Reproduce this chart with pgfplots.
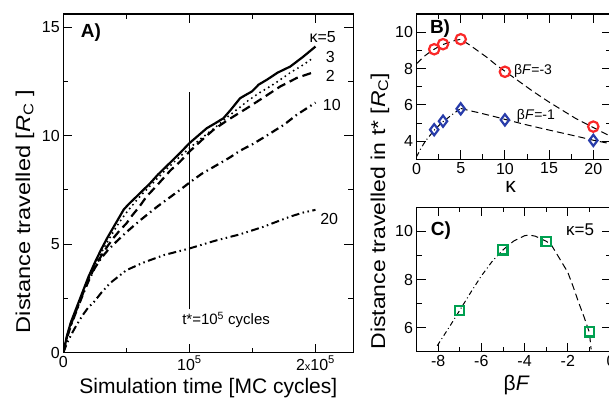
\documentclass[border=0pt]{standalone}
\usepackage{pgfplots}
\pgfplotsset{compat=1.18}
\usepackage{fontspec}
\setmainfont{Liberation Sans}
\definecolor{cred}{RGB}{250,40,40}
\definecolor{cblue}{RGB}{40,60,170}
\definecolor{cgreen}{RGB}{0,160,80}
\pgfplotsset{
 myaxis/.style={
  scale only axis, anchor=south west,
  axis line style={line width=1.2pt},
  every tick/.style={line width=0.9pt, black},
  tick align=inside, major tick length=9pt, minor tick length=5pt,
  xtick pos=both, ytick pos=both, xticklabel pos=lower, yticklabel pos=left,
  tick label style={font=\fontsize{16}{16}\selectfont},
  /pgf/number format/assume math mode=true,
  label style={font=\fontsize{21}{21}\selectfont},
 },
 fit/.style={black, line width=1pt, dash pattern=on 7pt off 4pt},
 fitdd/.style={black, line width=1pt, dash pattern=on 5pt off 3pt on 1pt off 3pt},
}
\begin{document}
\begin{tikzpicture}
\useasboundingbox (0,0) rectangle (609pt,400pt);
% ---------------- Panel A
\begin{axis}[myaxis, at={(63.3pt,47.3pt)}, width=290pt, height=338.7pt,
  xmin=0, xmax=2.3, ymin=0, ymax=15.6,
  xtick={0,1,2}, xticklabels={0,10\textsuperscript{5},2{\fontsize{11}{11}\selectfont x}10\textsuperscript{5}},
  minor xtick={0.5,1.5},
  ytick={0,5,10,15}, minor ytick={2.5,7.5,12.5},
  xlabel={Simulation time [MC cycles]},
  xlabel style={at={(axis description cs:0.5,-0.104)}, anchor=center},
  ylabel={\fontsize{20}{20}\selectfont\scalebox{1.18}[1]{Distance travelled [\textit{R}\textsubscript{C} ]}},
  ylabel style={at={(axis description cs:-0.132,0.417)}, anchor=center},
]
\addplot[black, line width=1pt] coordinates {(1,2) (1,12)};
% kappa=20
\addplot[black, line width=2pt, dash pattern=on 8pt off 3.5pt on 1.5pt off 3.5pt on 1.5pt off 3.5pt] coordinates {
(0,0) (0.03,0.45) (0.06,0.8) (0.093,1.15) (0.15,1.7) (0.2,2.1) (0.238,2.3) (0.3,2.75) (0.37,3.2) (0.5,3.8) (0.635,4.15) (0.8,4.5) (1.0,4.8) (1.2,5.15) (1.4,5.45) (1.587,5.8) (1.7,6.05) (1.8,6.27) (1.9,6.45) (2.0,6.58)};
% kappa=10
\addplot[black, line width=2.2pt, dash pattern=on 8pt off 4pt on 1.5pt off 4pt] coordinates {
(0,0) (0.03,0.7) (0.06,1.25) (0.1,1.85) (0.15,2.6) (0.2,3.3) (0.25,3.9) (0.3,4.35) (0.35,4.7) (0.4,5.0) (0.5,5.55) (0.61,6.1) (0.75,6.75) (0.926,7.5) (1.0,7.83) (1.1,8.25) (1.22,8.65) (1.323,9.0) (1.4,9.3) (1.5,9.6) (1.6,9.95) (1.75,10.5) (1.85,10.95) (2.0,11.52)};
% kappa=2
\addplot[black, line width=2.2pt, dash pattern=on 9pt off 5pt] coordinates {
(0,0) (0.03,0.75) (0.06,1.3) (0.1,1.9) (0.15,2.65) (0.2,3.35) (0.25,3.95) (0.3,4.45) (0.35,4.9) (0.4,5.3) (0.45,5.65) (0.5,5.95) (0.55,6.35) (0.6,6.7) (0.66,7.19) (0.75,7.75) (0.85,8.4) (0.926,8.8) (1.0,9.26) (1.1,9.8) (1.19,10.26) (1.3,10.7) (1.456,11.26) (1.6,11.8) (1.72,12.26) (1.85,12.65) (2.0,12.95)};
% kappa=3
\addplot[black, line width=2.2pt, line cap=round, dash pattern=on 0pt off 5pt] coordinates {
(0,0) (0.03,0.75) (0.06,1.35) (0.1,1.95) (0.15,2.7) (0.2,3.4) (0.25,4.05) (0.3,4.6) (0.35,5.1) (0.4,5.6) (0.45,6.05) (0.5,6.45) (0.6,7.15) (0.7,7.75) (0.8,8.35) (0.9,8.9) (1.0,9.42) (1.1,9.9) (1.2,10.35) (1.3,10.85) (1.4,11.3) (1.456,11.57) (1.55,11.95) (1.65,12.3) (1.72,12.57) (1.8,12.9) (1.9,13.25) (1.98,13.57)};
% kappa=5
\addplot[black, line width=2.2pt] coordinates {
(0,0) (0.03,0.8) (0.06,1.4) (0.1,2.0) (0.15,2.75) (0.2,3.5) (0.25,4.15) (0.3,4.75) (0.35,5.3) (0.4,5.8) (0.45,6.3) (0.48,6.6) (0.52,6.85) (0.6,7.3) (0.688,7.8) (0.75,8.2) (0.847,8.75) (0.926,9.2) (1.0,9.65) (1.06,9.95) (1.138,10.34) (1.2,10.55) (1.27,10.8) (1.33,11.2) (1.402,11.72) (1.44,11.85) (1.495,12.03) (1.55,12.35) (1.614,12.57) (1.7,12.9) (1.8,13.18) (1.9,13.62) (2.0,14.1)};
\node[font=\fontsize{19}{19}\selectfont\bfseries] at (axis description cs:0.0955,0.944) {A)};
\node[font=\fontsize{16}{16}\selectfont] at (axis cs:2.057,14.55) {κ=5};
\node[font=\fontsize{16}{16}\selectfont] at (axis cs:2.117,13.64) {3};
\node[font=\fontsize{16}{16}\selectfont] at (axis cs:2.117,12.75) {2};
\node[font=\fontsize{16}{16}\selectfont] at (axis cs:2.13,11.41) {10};
\node[font=\fontsize{16}{16}\selectfont] at (axis cs:2.109,6.16) {20};
\node[font=\fontsize{15}{15}\selectfont] at (axis cs:1.291,1.5) {t*=10\textsuperscript{5} cycles};
\end{axis}
% ---------------- Panel B
\begin{axis}[myaxis, at={(416.5pt,240.7pt)}, width=194.5pt, height=145.3pt,
  xmin=0, xmax=22, ymin=3, ymax=11,
  xtick={0,5,10,15,20}, minor xtick={2.5,7.5,12.5,17.5},
  ytick={4,6,8,10}, minor ytick={5,7,9},
  xlabel={κ},
  xlabel style={at={(axis description cs:0.484,-0.187)}, anchor=center},
  ylabel={\fontsize{20}{20}\selectfont\scalebox{1.15}[1]{Distance travelled in t* [\textit{R}\textsubscript{C}]}},
  ylabel style={at={(axis description cs:-0.188,-0.356)}, anchor=center},
]
\addplot[fit] coordinates {(0,8.26) (0.5,8.5) (1,8.72) (1.5,8.9) (2,9.06) (2.5,9.2) (3,9.32) (4,9.5) (5,9.61) (6,9.3) (7,8.95) (8,8.6) (9,8.2) (10,7.85) (11,7.5) (12,7.15) (13,6.8) (14,6.47) (15,6.15) (16,5.85) (17,5.55) (18,5.25) (19,5.0) (20,4.75) (21,4.5) (22,4.25)};
\addplot[fitdd] coordinates {(0,3.14) (0.5,3.6) (1,4.0) (1.5,4.3) (2,4.6) (2.5,4.85) (3,5.07) (4,5.45) (5,5.8)};
\addplot[fit] coordinates {(5,5.8) (6,5.68) (7,5.57) (8,5.45) (9,5.33) (10,5.2) (12,4.95) (14,4.72) (16,4.5) (18,4.28) (20,4.05) (22,3.85)};
\addplot[only marks, mark=o, mark size=5.2pt, mark options={cred, line width=2.2pt, fill=white}] coordinates {(2,9.06) (3,9.34) (5,9.61) (10,7.82) (20,4.8)};
\addplot[only marks, mark=diamond, mark size=5.6pt, mark options={cblue, line width=2.2pt, fill=white}] coordinates {(2,4.63) (3,5.1) (5,5.78) (10,5.17) (20,4.04)};
\node[font=\fontsize{19}{19}\selectfont\bfseries] at (axis description cs:0.121,0.897) {B)};
\node[font=\fontsize{14}{14}\selectfont] at (axis description cs:0.599,0.608) {β\textit{F}=-3};
\node[font=\fontsize{14}{14}\selectfont] at (axis description cs:0.614,0.298) {β\textit{F}=-1};
\end{axis}
% ---------------- Panel C
\begin{axis}[myaxis, at={(416.5pt,48.3pt)}, width=194.5pt, height=144.4pt,
  xmin=-9, xmax=0, ymin=5, ymax=11,
  xtick={-8,-6,-4,-2,0}, xticklabels={-8,-6,-4,-2,0}, minor xtick={-7,-5,-3,-1},
  ytick={6,8,10}, minor ytick={7,9},
  xlabel={β\textit{F}},
  xlabel style={at={(axis description cs:0.515,-0.231)}, anchor=center},
]
\addplot[fitdd] coordinates {(-8.04,5.25) (-7.5,6.0) (-7,6.72) (-6.5,7.45) (-6,8.15) (-5.5,8.75) (-5,9.23)};
\addplot[fit] coordinates {(-5,9.23) (-4.5,9.6) (-4,9.82) (-3.8,9.85) (-3.5,9.8) (-3,9.59) (-2.77,9.45) (-2.5,9.05) (-2,8.3) (-1.75,7.7) (-1.5,7.05) (-1.25,6.45) (-1,5.8) (-0.92,5.1)};
\addplot[only marks, mark=square, mark size=4.6pt, mark options={cgreen, line width=2.2pt, fill=white}] coordinates {(-7,6.72) (-5,9.23) (-3,9.59) (-1,5.82)};
\node[font=\fontsize{19}{19}\selectfont\bfseries] at (axis description cs:0.126,0.836) {C)};
\node[font=\fontsize{17}{17}\selectfont] at (axis description cs:0.841,0.843) {κ=5};
\end{axis}
\end{tikzpicture}
\end{document}
